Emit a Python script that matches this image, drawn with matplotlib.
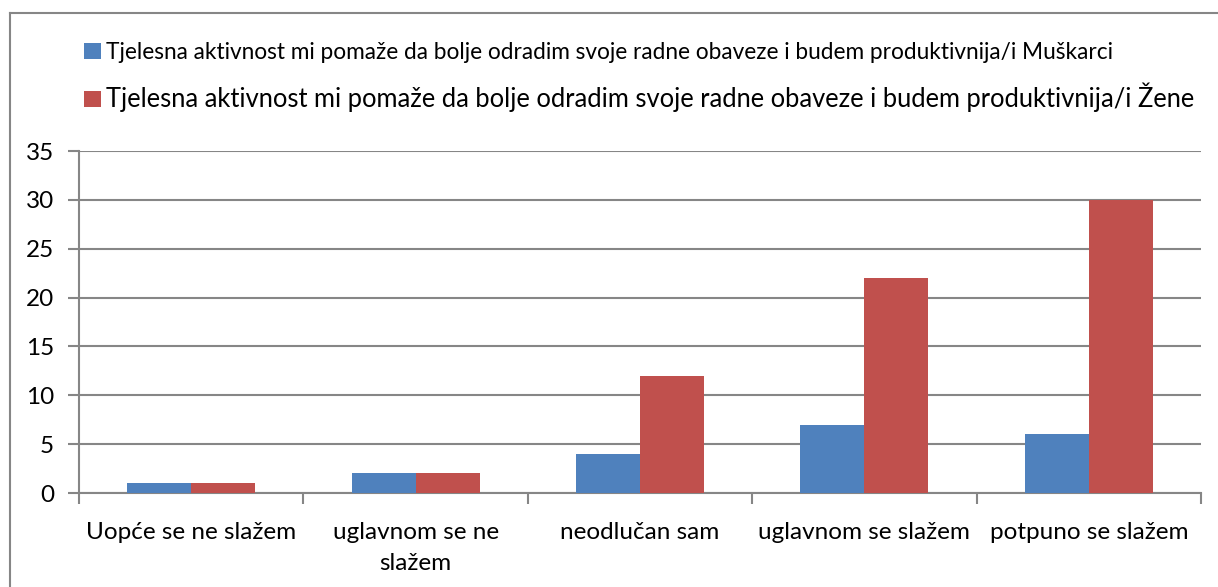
import numpy as np
import matplotlib.pyplot as plt
from matplotlib.lines import Line2D

categories = ["Uopće se ne slažem", "uglavnom se ne\nslažem", "neodlučan sam",
              "uglavnom se slažem", "potpuno se slažem"]
muskarci = [1, 2, 4, 7, 6]
zene = [1, 2, 12, 22, 30]
labels = ["Tjelesna aktivnost mi pomaže da bolje odradim svoje radne obaveze i budem produktivnija/i Muškarci",
          "Tjelesna aktivnost mi pomaže da bolje odradim svoje radne obaveze i budem produktivnija/i Žene"]

plt.rcParams['font.family'] = ['Lato', 'DejaVu Sans']

fig = plt.figure(figsize=(12.18, 5.87), dpi=100)
W, H = 1218, 587
ax = fig.add_axes([79 / W, 1 - 493 / H, (1201 - 79) / W, (493 - 151) / H])

x = np.arange(len(categories))
bw = 0.285
ax.bar(x - bw / 2, muskarci, bw, color='#4F81BD', label=labels[0], zorder=3)
ax.bar(x + bw / 2, zene, bw, color='#C0504D', label=labels[1], zorder=3)

ax.set_xlim(-0.5, len(categories) - 0.5)
ax.set_ylim(0, 35)
ax.set_yticks(range(0, 36, 5))
ax.yaxis.grid(True, color='#868686', linewidth=1.5, zorder=0)
for s in ['top', 'right']:
    ax.spines[s].set_visible(False)
for s in ['left', 'bottom']:
    ax.spines[s].set_color('#868686')
    ax.spines[s].set_linewidth(1.5)
ax.tick_params(axis='y', length=8, width=1.5, color='#868686', labelsize=17.5, pad=10)
ax.set_xticks(x)
ax.set_xticklabels(categories, fontsize=17.5, linespacing=1.55)
ax.tick_params(axis='x', length=0, pad=21)
ax.set_xticks(np.arange(-0.5, len(categories)), minor=True)
ax.tick_params(axis='x', which='minor', length=8, width=1.5, color='#868686')

leg = fig.legend(loc='upper left', bbox_to_anchor=(75 / W, 1 - 33 / H), frameon=False,
                 handlelength=0.75, handleheight=0.75, handletextpad=0.2,
                 labelspacing=0.85, borderaxespad=0, fontsize=16.3)
leg.get_texts()[0].set_fontsize(16.3)
leg.get_texts()[1].set_fontsize(18.4)

# chart border (left and top visible)
fig.add_artist(Line2D([10 / W, 10 / W], [0, 1 - 13 / H], color='#868686', linewidth=1.5))
fig.add_artist(Line2D([10 / W, 1], [1 - 13 / H, 1 - 13 / H], color='#868686', linewidth=1.5))

fig.savefig('out.png', dpi=100)
